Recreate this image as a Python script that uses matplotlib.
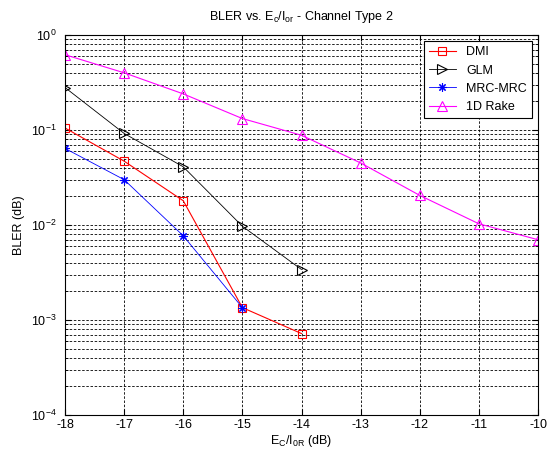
import matplotlib
matplotlib.use("Agg")
import matplotlib.pyplot as plt
from matplotlib.ticker import LogLocator, NullFormatter

plt.rcParams['font.family'] = ['Liberation Sans', 'DejaVu Sans']

x_dmi = [-18, -17, -16, -15, -14]
y_dmi = [0.105, 0.047, 0.0180, 0.00135, 0.00072]
x_glm = [-18, -17, -16, -15, -14]
y_glm = [0.28, 0.092, 0.041, 0.0097, 0.0034]
x_mrc = [-18, -17, -16, -15]
y_mrc = [0.064, 0.030, 0.0077, 0.00135]
x_rake = [-18, -17, -16, -15, -14, -13, -12, -11, -10]
y_rake = [0.62, 0.40, 0.24, 0.132, 0.088, 0.045, 0.0205, 0.0103, 0.0070]

xticks = [-18, -17, -16, -15, -14, -13, -12, -11, -10]

fig = plt.figure(figsize=(5.56, 4.5), dpi=100)
ax = fig.add_axes([65/556, 1-415/450, 473/556, 380/450])

ax.plot(x_dmi, y_dmi, color='#ff0000', lw=0.8, marker='s', ms=6, mfc='none', mec='#ff0000', mew=0.8, label='DMI')
ax.plot(x_glm, y_glm, color='#000000', lw=0.6, marker='>', ms=6.5, mfc='none', mec='#000000', mew=0.8, label='GLM')
ax.plot(x_mrc, y_mrc, color='#0000ff', lw=0.6, marker=(8, 2, 0), ms=6, mfc='#0000ff', mec='#0000ff', mew=0.8, label='MRC-MRC')
ax.plot(x_rake, y_rake, color='#ff00ff', lw=0.8, marker='^', ms=7.5, mfc='none', mec='#ff00ff', mew=0.8, label='1D Rake')

ax.set_yscale('log')
ax.set_xlim(-18, -10)
ax.set_ylim(1e-4, 1)
ax.set_xticks(xticks)
ax.set_xticklabels([str(t) for t in xticks])
ax.yaxis.set_major_locator(LogLocator(base=10, numticks=10))
ax.yaxis.set_minor_locator(LogLocator(base=10, subs=range(2, 10), numticks=20))
ax.yaxis.set_minor_formatter(NullFormatter())

ax.grid(True, which='both', color='black', linestyle=(0, (3, 2)), linewidth=0.6)
ax.tick_params(which='both', direction='in', top=True, right=True, labelsize=9)
ax.tick_params(which='major', length=4)
ax.tick_params(which='minor', length=2)
ax.tick_params(axis='x', which='major', pad=3)
ax.tick_params(axis='y', which='major', pad=6)
for s in ax.spines.values():
    s.set_linewidth(0.8)

ax.set_title(r'BLER vs. E$_\mathregular{c}$/I$_\mathregular{or}$ - Channel Type 2', fontsize=9, pad=11)
ax.set_xlabel(r'E$_\mathregular{C}$/I$_\mathregular{0R}$ (dB)', fontsize=9, labelpad=1)
ax.set_ylabel('BLER (dB)', fontsize=9, labelpad=4)

leg = ax.legend(loc='upper right', fontsize=9, frameon=True, fancybox=False, edgecolor='black', framealpha=1, borderaxespad=0.5, handlelength=2.2)
leg.get_frame().set_linewidth(0.8)

fig.savefig('out.png', dpi=100)
